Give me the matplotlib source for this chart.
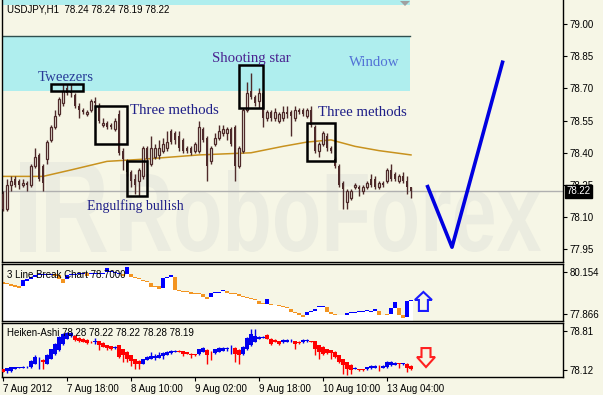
"""USDJPY H1 chart with candlestick patterns, 3 Line Break and Heiken-Ashi panels."""

import matplotlib

matplotlib.use("Agg")
import matplotlib.pyplot as plt
import matplotlib.transforms as mtransforms
import numpy as np
from matplotlib.font_manager import FontProperties
from matplotlib.patches import PathPatch, Polygon, Rectangle
from matplotlib.textpath import TextPath

W, H = 603, 395
BG = "#f6f6e6"
CANDLE = "#4e2a2a"
WATERMARK = "#ebece0"
SANS = "Liberation Sans"
SERIF = "Liberation Serif"

# --- main chart, hourly candles -------------------------------------------
opens = [78.21, 78.14, 78.25, 78.28, 78.27, 78.25, 78.26, 78.25, 78.34, 78.39,
         78.34, 78.37, 78.46, 78.52, 78.58, 78.63, 78.70, 78.69, 78.67, 78.62,
         78.60, 78.58, 78.60, 78.64, 78.62, 78.53, 78.54, 78.53, 78.51, 78.58,
         78.41, 78.36, 78.31, 78.28, 78.27, 78.29, 78.42, 78.35, 78.38, 78.39,
         78.41, 78.42, 78.50, 78.49, 78.48, 78.46, 78.42, 78.42, 78.41, 78.41,
         78.51, 78.47, 78.36, 78.44, 78.47, 78.49, 78.49, 78.51, 78.52, 78.34,
         78.41, 78.60, 78.69, 78.66, 78.64, 78.68, 78.56, 78.59, 78.56, 78.55,
         78.56, 78.59, 78.59, 78.56, 78.60, 78.60, 78.57, 78.60, 78.52, 78.41,
         78.44, 78.48, 78.42, 78.37, 78.34, 78.26, 78.17, 78.19, 78.24, 78.24,
         78.22, 78.24, 78.28, 78.28, 78.24, 78.26, 78.27, 78.32, 78.30, 78.27,
         78.29, 78.27, 78.24]
highs = [78.22, 78.28, 78.29, 78.29, 78.28, 78.28, 78.27, 78.35, 78.42, 78.40,
         78.35, 78.46, 78.53, 78.60, 78.66, 78.72, 78.72, 78.72, 78.68, 78.63,
         78.61, 78.60, 78.65, 78.66, 78.63, 78.56, 78.55, 78.54, 78.56, 78.60,
         78.42, 78.37, 78.32, 78.30, 78.33, 78.43, 78.43, 78.48, 78.44, 78.46,
         78.47, 78.50, 78.51, 78.50, 78.50, 78.47, 78.43, 78.43, 78.45, 78.55,
         78.52, 78.48, 78.43, 78.49, 78.53, 78.53, 78.52, 78.52, 78.53, 78.43,
         78.61, 78.73, 78.77, 78.67, 78.70, 78.69, 78.60, 78.60, 78.61, 78.59,
         78.62, 78.62, 78.60, 78.62, 78.61, 78.61, 78.61, 78.62, 78.53, 78.45,
         78.50, 78.49, 78.43, 78.38, 78.35, 78.27, 78.23, 78.23, 78.26, 78.25,
         78.25, 78.27, 78.30, 78.29, 78.27, 78.27, 78.33, 78.35, 78.31, 78.30,
         78.31, 78.29, 78.24]
lows = [78.13, 78.13, 78.22, 78.24, 78.23, 78.24, 78.22, 78.24, 78.33, 78.27,
        78.22, 78.35, 78.45, 78.51, 78.57, 78.62, 78.67, 78.66, 78.61, 78.56,
        78.58, 78.57, 78.59, 78.61, 78.54, 78.52, 78.51, 78.51, 78.50, 78.39,
        78.32, 78.29, 78.24, 78.21, 78.20, 78.28, 78.36, 78.34, 78.37, 78.37,
        78.40, 78.41, 78.44, 78.44, 78.41, 78.40, 78.40, 78.39, 78.40, 78.40,
        78.45, 78.27, 78.35, 78.43, 78.46, 78.48, 78.46, 78.43, 78.27, 78.33,
        78.40, 78.59, 78.65, 78.62, 78.61, 78.52, 78.55, 78.55, 78.55, 78.54,
        78.55, 78.56, 78.48, 78.55, 78.58, 78.57, 78.56, 78.52, 78.40, 78.38,
        78.43, 78.41, 78.40, 78.33, 78.24, 78.14, 78.14, 78.18, 78.23, 78.20,
        78.21, 78.23, 78.24, 78.23, 78.23, 78.24, 78.26, 78.27, 78.27, 78.26,
        78.26, 78.21, 78.19]
closes = [78.14, 78.25, 78.27, 78.25, 78.25, 78.26, 78.25, 78.34, 78.38, 78.28,
          78.26, 78.45, 78.52, 78.57, 78.65, 78.69, 78.68, 78.68, 78.62, 78.60,
          78.59, 78.59, 78.64, 78.63, 78.55, 78.54, 78.52, 78.52, 78.55, 78.40,
          78.37, 78.31, 78.27, 78.25, 78.32, 78.42, 78.37, 78.42, 78.42, 78.42,
          78.44, 78.45, 78.45, 78.46, 78.42, 78.41, 78.41, 78.40, 78.44, 78.52,
          78.46, 78.34, 78.42, 78.47, 78.50, 78.51, 78.51, 78.44, 78.34, 78.42,
          78.60, 78.68, 78.66, 78.63, 78.68, 78.56, 78.59, 78.56, 78.59, 78.58,
          78.59, 78.58, 78.57, 78.60, 78.59, 78.58, 78.60, 78.53, 78.41, 78.44,
          78.49, 78.42, 78.41, 78.34, 78.25, 78.23, 78.22, 78.22, 78.25, 78.23,
          78.24, 78.26, 78.25, 78.24, 78.26, 78.25, 78.32, 78.28, 78.28, 78.29,
          78.27, 78.24, 78.22]

# moving average, read at a few bars
ma_idx = [0, 10, 17, 26, 35, 49, 62, 70, 76, 82, 88, 94, 102]
ma_val = [78.29, 78.29, 78.32, 78.36, 78.37, 78.39, 78.40, 78.43, 78.45, 78.46,
          78.43, 78.41, 78.39]

last_price = 78.22
window_lo, window_hi = 78.69, 78.944
window_end = 101.75

# forecast "V" drawn by hand on the chart
v_idx = [106, 112.25, 125]
v_price = [78.25, 77.96, 78.83]

# pattern boxes and their captions
box_x0 = [12, 23, 31, 59, 76]
box_x1 = [20, 31, 36, 65, 83]
box_lo = [78.69, 78.44, 78.20, 78.61, 78.36]
box_hi = [78.72, 78.62, 78.36, 78.81, 78.54]
label_text = ["Tweezers", "Three methods", "Engulfing bullish", "Shooting star",
              "Three methods", "Window"]
label_x = [8.75, 31.75, 21, 52.25, 78.75, 86.5]
label_y = [78.75, 78.595, 78.15, 78.84, 78.59, 78.82]
label_color = ["#283c98", "#1f1f88", "#1f1f88", "#4a2290", "#1f1f88", "#5272d6"]

main_ticks = [79.00, 78.85, 78.70, 78.55, 78.40, 78.25, 78.10, 77.95]

# --- 3 Line Break indicator ---------------------------------------------------
lb_lo = [79.50, 79.50, 79.39, 79.34, 79.28, 79.39, 79.66, 79.77, 79.88, 79.99,
         79.99, 79.99, 79.99, 79.94, 79.77, 79.55, 79.77, 79.99, 79.99, 80.04,
         80.04, 79.94, 80.04, 80.04, 80.04, 80.04, 80.15, 80.15, 80.10, 80.04,
         79.94, 80.04, 79.88, 79.83, 79.77, 79.66, 79.61, 79.34, 79.34, 79.23,
         79.28, 79.83, 79.88, 79.17, 79.12, 79.09, 79.06, 78.95, 78.95, 78.95,
         78.79, 78.68, 78.79, 79.01, 79.01, 79.12, 79.01, 78.98, 78.95, 78.85,
         78.79, 78.74, 78.68, 78.63, 78.41, 78.41, 78.41, 78.36, 78.33, 78.30,
         78.25, 78.19, 77.97, 77.92, 77.81, 77.70, 77.81, 77.97, 78.03, 78.25,
         78.25, 77.97, 77.87, 77.81, 77.79, 77.79, 77.81, 77.92, 77.94, 77.97,
         78.00, 78.05, 77.97, 78.03, 77.81, 77.79, 77.81, 77.87, 78.19, 77.81,
         77.65, 77.70, 78.57]
lb_hi = [79.61, 79.55, 79.50, 79.45, 79.39, 79.72, 79.77, 79.88, 79.99, 80.04,
         80.04, 80.04, 80.04, 80.04, 79.99, 79.77, 79.99, 80.04, 80.04, 80.10,
         80.10, 80.10, 80.10, 80.10, 80.10, 80.10, 80.37, 80.21, 80.15, 80.10,
         80.04, 80.43, 80.04, 79.88, 79.83, 79.72, 79.66, 79.55, 79.39, 79.39,
         79.83, 79.88, 79.99, 79.88, 79.17, 79.12, 79.12, 79.06, 79.01, 79.01,
         78.95, 78.79, 79.01, 79.06, 79.06, 79.17, 79.12, 79.01, 79.01, 78.95,
         78.85, 78.79, 78.74, 78.68, 78.57, 78.44, 78.68, 78.41, 78.36, 78.36,
         78.30, 78.25, 78.14, 77.97, 77.92, 77.81, 77.97, 78.03, 78.14, 78.30,
         78.30, 78.25, 77.97, 77.87, 77.81, 77.81, 77.92, 77.97, 77.97, 78.03,
         78.03, 78.08, 78.03, 78.14, 78.03, 77.81, 77.87, 78.19, 78.52, 78.19,
         77.81, 78.57, 78.63]
lb_up = [0, 0, 0, 0, 0, 1, 1, 1, 1, 1, 1, 1, 1, 0, 0, 0, 1, 1, 1, 1,
         1, 0, 1, 1, 1, 1, 1, 1, 1, 1, 0, 1, 0, 0, 0, 0, 0, 0, 0, 0,
         1, 1, 1, 0, 0, 0, 0, 0, 0, 0, 0, 0, 1, 1, 1, 1, 0, 0, 0, 0,
         0, 0, 0, 0, 0, 0, 1, 0, 0, 0, 0, 0, 0, 0, 0, 0, 1, 1, 1, 1,
         1, 0, 0, 0, 0, 0, 1, 1, 1, 1, 1, 1, 1, 1, 0, 0, 0, 1, 1, 0,
         0, 1, 1]
lb_ticks = [80.154, 77.866]

# --- Heiken-Ashi indicator ----------------------------------------------------
ha_open = [78.14, 78.10, 78.10, 78.14, 78.16, 78.16, 78.17, 78.17, 78.23, 78.29,
           78.30, 78.23, 78.32, 78.40, 78.47, 78.58, 78.67, 78.72, 78.72, 78.69,
           78.67, 78.65, 78.62, 78.61, 78.63, 78.60, 78.56, 78.54, 78.51, 78.56,
           78.49, 78.44, 78.38, 78.31, 78.28, 78.23, 78.30, 78.32, 78.34, 78.34,
           78.36, 78.39, 78.42, 78.44, 78.46, 78.45, 78.43, 78.41, 78.40, 78.40,
           78.44, 78.48, 78.44, 78.42, 78.44, 78.46, 78.49, 78.49, 78.51, 78.48,
           78.40, 78.49, 78.56, 78.62, 78.67, 78.69, 78.74, 78.67, 78.65, 78.63,
           78.61, 78.62, 78.63, 78.63, 78.62, 78.61, 78.63, 78.64, 78.63, 78.56,
           78.53, 78.49, 78.47, 78.44, 78.38, 78.31, 78.26, 78.21, 78.14, 78.14,
           78.14, 78.13, 78.15, 78.16, 78.18, 78.16, 78.17, 78.20, 78.21, 78.24,
           78.22, 78.23, 78.19]
ha_close = [78.09, 78.15, 78.17, 78.17, 78.17, 78.18, 78.18, 78.28, 78.35, 78.30,
            78.26, 78.39, 78.49, 78.58, 78.70, 78.76, 78.77, 78.77, 78.65, 78.63,
            78.62, 78.60, 78.61, 78.64, 78.56, 78.53, 78.51, 78.49, 78.53, 78.35,
            78.39, 78.31, 78.28, 78.23, 78.23, 78.31, 78.35, 78.37, 78.36, 78.38,
            78.42, 78.44, 78.46, 78.46, 78.44, 78.41, 78.41, 78.39, 78.38, 78.49,
            78.51, 78.39, 78.43, 78.49, 78.51, 78.51, 78.51, 78.50, 78.40, 78.38,
            78.53, 78.69, 78.76, 78.72, 78.70, 78.70, 78.67, 78.58, 78.62, 78.58,
            78.65, 78.65, 78.64, 78.58, 78.59, 78.65, 78.65, 78.62, 78.49, 78.44,
            78.40, 78.42, 78.42, 78.35, 78.26, 78.21, 78.14, 78.12, 78.16, 78.12,
            78.12, 78.17, 78.19, 78.19, 78.17, 78.19, 78.26, 78.26, 78.24, 78.22,
            78.24, 78.16, 78.13]
ha_high = [78.14, 78.16, 78.18, 78.18, 78.18, 78.19, 78.19, 78.29, 78.38, 78.35,
           78.31, 78.40, 78.50, 78.59, 78.72, 78.78, 78.80, 78.80, 78.74, 78.70,
           78.68, 78.66, 78.63, 78.69, 78.64, 78.61, 78.57, 78.55, 78.54, 78.57,
           78.50, 78.45, 78.39, 78.32, 78.29, 78.32, 78.36, 78.44, 78.40, 78.44,
           78.43, 78.45, 78.47, 78.47, 78.47, 78.46, 78.44, 78.42, 78.41, 78.50,
           78.53, 78.49, 78.45, 78.50, 78.52, 78.52, 78.53, 78.56, 78.52, 78.49,
           78.54, 78.70, 78.85, 78.85, 78.72, 78.73, 78.76, 78.68, 78.66, 78.64,
           78.66, 78.67, 78.67, 78.64, 78.63, 78.66, 78.66, 78.64, 78.64, 78.57,
           78.54, 78.50, 78.48, 78.45, 78.39, 78.32, 78.27, 78.22, 78.17, 78.14,
           78.14, 78.18, 78.20, 78.20, 78.20, 78.20, 78.28, 78.28, 78.26, 78.25,
           78.25, 78.24, 78.20]
ha_low = [78.08, 78.06, 78.09, 78.13, 78.15, 78.15, 78.16, 78.16, 78.22, 78.14,
          78.14, 78.22, 78.31, 78.39, 78.46, 78.57, 78.66, 78.71, 78.64, 78.62,
          78.61, 78.58, 78.60, 78.58, 78.47, 78.52, 78.47, 78.48, 78.50, 78.34,
          78.26, 78.26, 78.19, 78.14, 78.14, 78.22, 78.29, 78.31, 78.30, 78.33,
          78.32, 78.38, 78.41, 78.43, 78.43, 78.36, 78.40, 78.33, 78.37, 78.39,
          78.43, 78.23, 78.30, 78.41, 78.43, 78.45, 78.46, 78.40, 78.26, 78.23,
          78.39, 78.48, 78.54, 78.61, 78.66, 78.68, 78.66, 78.57, 78.61, 78.57,
          78.60, 78.61, 78.62, 78.49, 78.58, 78.60, 78.62, 78.61, 78.39, 78.31,
          78.39, 78.41, 78.31, 78.34, 78.25, 78.05, 78.03, 78.05, 78.13, 78.11,
          78.11, 78.12, 78.14, 78.15, 78.10, 78.15, 78.16, 78.19, 78.20, 78.15,
          78.21, 78.08, 78.12]
ha_ticks = [78.81, 78.12]

time_ticks = [0, 16, 32, 48, 64, 80, 96]
time_labels = ["7 Aug 2012", "7 Aug 18:00", "8 Aug 10:00", "9 Aug 02:00",
               "9 Aug 18:00", "10 Aug 10:00", "13 Aug 04:00"]


def frac(x0, y0, x1, y1):
    """Pixel box (y measured from the top) to a figure-fraction rect."""
    return [x0 / W, 1 - y1 / H, (x1 - x0) / W, (y1 - y0) / H]


def style_panel(ax, ticks, fmt):
    ax.set_xlim(-0.25, 140)
    ax.yaxis.tick_right()
    ax.set_yticks(ticks)
    ax.set_yticklabels([fmt % t for t in ticks], fontfamily=SANS, fontsize=7)
    ax.tick_params(axis="y", direction="out", length=3, width=0.8, pad=1.5)
    ax.set_xticks([])
    for sp in ax.spines.values():
        sp.set_color("black")
        sp.set_linewidth(1)


def fit_text(ax, s, box, color):
    """Draw a text outline stretched into a pixel box (watermark)."""
    tp = TextPath((0, 0), s, size=100, prop=FontProperties(family=SANS, weight="bold"))
    bb = tp.get_extents()
    x0, y0, x1, y1 = box
    tr = (mtransforms.Affine2D().translate(-bb.x0, -bb.y0)
          .scale((x1 - x0) / bb.width, -(y1 - y0) / bb.height).translate(x0, y1))
    ax.add_patch(PathPatch(tr.transform_path(tp), fc=color, ec="none"))


def arrow(fig, ax, xd, yd, pts, color):
    trans = fig.dpi_scale_trans + mtransforms.ScaledTranslation(xd, yd, ax.transData)
    shape = np.array(pts) / 100.0
    ax.add_patch(Polygon(shape, closed=True, fc="none", ec=color, lw=1.5,
                         transform=trans, clip_on=False, zorder=6))


fig = plt.figure(figsize=(W / 100, H / 100), dpi=100, facecolor=BG)

# watermark layer in pixel space, under the main chart
ov = fig.add_axes([0, 0, 1, 1], zorder=0)
ov.set_xlim(0, W)
ov.set_ylim(H, 0)
ov.axis("off")
ov.add_patch(Rectangle((20, 162), 16, 90, fc=WATERMARK, ec="none"))
fit_text(ov, "R", (46, 162, 107, 252), WATERMARK)
fit_text(ov, "RoboForex", (120, 170, 541, 252), WATERMARK)

# main price panel
ax = fig.add_axes(frac(2, 0, 563, 262), zorder=1)
ax.set_facecolor("none")
style_panel(ax, main_ticks, "%.2f")
ax.set_ylim(77.891, 79.112)
ax.spines["top"].set_visible(False)

ax.fill_between([-5, window_end], 79.09, 79.3, color="#afeeee", lw=0, zorder=1)
ax.fill_between([-5, window_end], window_lo, window_hi, color="#afeeee", lw=0, zorder=1)
ax.plot([-5, window_end], [window_hi, window_hi], color="#2f4f4f", lw=1, zorder=1.5)
ax.axhline(last_price, color="#b0b0b0", lw=1, zorder=1.5)
ax.plot(ma_idx, ma_val, color="#c8921e", lw=1.1, zorder=2)

idx = np.arange(len(opens))
o, hi, lo, c = map(np.asarray, (opens, highs, lows, closes))
ax.vlines(idx, lo, hi, color=CANDLE, lw=1, zorder=3)
bull = c >= o
body = np.maximum(np.abs(c - o), 0.004)
base = np.minimum(o, c)
ax.bar(idx[bull], body[bull], bottom=base[bull], width=0.62, facecolor=BG,
       edgecolor=CANDLE, lw=0.9, zorder=4)
ax.bar(idx[~bull], body[~bull], bottom=base[~bull], width=0.62, color=CANDLE,
       lw=0, zorder=4)

ax.plot(v_idx, v_price, color="#0000e0", lw=2.6, solid_capstyle="butt", zorder=5)

for x0, x1, b0, b1 in zip(box_x0, box_x1, box_lo, box_hi):
    ax.add_patch(Rectangle((x0, b0), x1 - x0, b1 - b0, fc="none", ec="black",
                           lw=1.8, zorder=6))
for txt, tx, ty, col in zip(label_text, label_x, label_y, label_color):
    size = 10.0 if txt == "Engulfing bullish" else 10.7
    ax.text(tx, ty, txt, fontfamily=SERIF, fontsize=size, color=col,
            ha="left", va="center", zorder=7)

ax.text(5 / 561, 0.962, "USDJPY,H1  78.24 78.24 78.19 78.22", transform=ax.transAxes,
        fontfamily=SANS, fontsize=7, color="black", ha="left", va="center", zorder=7)
ax.text(1 + 3.5 / 561, last_price, "78.22",
        transform=mtransforms.blended_transform_factory(ax.transAxes, ax.transData),
        fontfamily=SANS, fontsize=7, color="white", ha="left", va="center",
        bbox=dict(boxstyle="square,pad=0.18", fc="black", ec="black"),
        clip_on=False, zorder=10)

# 3 Line Break panel
ax_lb = fig.add_axes(frac(2, 264, 563, 321), zorder=1)
ax_lb.set_facecolor(BG)
style_panel(ax_lb, lb_ticks, "%.3f")
ymin_lb = 77.485
ax_lb.set_ylim(ymin_lb, 80.59)
lbl, lbh, lbu = np.asarray(lb_lo), np.asarray(lb_hi), np.asarray(lb_up, bool)
ax_lb.bar(idx, lbl - ymin_lb, bottom=ymin_lb, width=1.0, color="white", lw=0, zorder=1)
ax_lb.bar(idx[lbu], (lbh - lbl)[lbu], bottom=lbl[lbu], width=0.95, color="#0000ff",
          lw=0, zorder=2)
ax_lb.bar(idx[~lbu], (lbh - lbl)[~lbu], bottom=lbl[~lbu], width=0.95, color="#f39420",
          lw=0, zorder=2)
ax_lb.text(5 / 561, 0.81, "3 Line Break Chart 78.7000", transform=ax_lb.transAxes,
           fontfamily=SANS, fontsize=7, color="black", ha="left", va="center", zorder=5)
arrow(fig, ax_lb, 105.1, 78.55,
      [(0, 9.5), (8.5, 1.5), (4.5, 1.5), (4.5, -9.5), (-4.5, -9.5), (-4.5, 1.5),
       (-8.5, 1.5)], "#1a1aff")

# Heiken-Ashi panel
ax_ha = fig.add_axes(frac(2, 323, 563, 377), zorder=1)
ax_ha.set_facecolor(BG)
style_panel(ax_ha, ha_ticks, "%.2f")
ax_ha.set_ylim(77.996, 78.9515)
hao, hac = np.asarray(ha_open), np.asarray(ha_close)
ha_up = hac >= hao
ha_col = np.where(ha_up, "#0000ee", "#ff0000")
ax_ha.vlines(idx, ha_low, ha_high, colors=ha_col, lw=1, zorder=2)
ax_ha.bar(idx, np.maximum(np.abs(hac - hao), 0.01), bottom=np.minimum(hao, hac),
          width=0.8, color=ha_col, lw=0, zorder=3)
ax_ha.text(5 / 561, 0.815, "Heiken-Ashi 78.28 78.22 78.22 78.28 78.19",
           transform=ax_ha.transAxes, fontfamily=SANS, fontsize=7, color="black",
           ha="left", va="center", zorder=5)
arrow(fig, ax_ha, 105.75, 78.34,
      [(0, -9.5), (9, 0.5), (4.5, 0.5), (4.5, 9.5), (-4.5, 9.5), (-4.5, 0.5),
       (-9, 0.5)], "#ff2020")

ax_ha.set_xticks(time_ticks)
ax_ha.set_xticklabels(time_labels, fontfamily=SANS, fontsize=7, ha="left")
ax_ha.tick_params(axis="x", direction="out", length=3, width=0.8, pad=2)

# shift marker at the top of the chart
ov_top = fig.add_axes([0, 0, 1, 1], zorder=5)
ov_top.set_xlim(0, W)
ov_top.set_ylim(H, 0)
ov_top.axis("off")
ov_top.add_patch(Polygon([(400, 1), (410, 1), (405, 6)], closed=True, fc="#a0a0a0", ec="none"))

fig.savefig("out.png", dpi=100, facecolor=BG)
